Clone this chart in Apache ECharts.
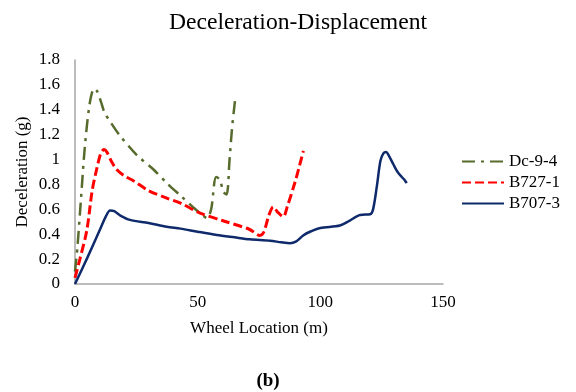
<!DOCTYPE html>
<html><head><meta charset="utf-8">
<script src="https://cdn.jsdelivr.net/npm/echarts@6/dist/echarts.min.js"></script>
<style>html,body{margin:0;padding:0;background:#fff}#c{width:576px;height:392px}</style>
</head><body><div id="c"></div>
<script>
const seriesNames = ["Dc-9-4", "B727-1", "B707-3"];
const dcX = [0, 1, 2.5, 4, 6, 7.8, 9, 10.5, 12, 14.5, 18, 25, 32, 37.5, 43, 48, 51.5, 53.8, 55.5, 57.5, 59, 60.5, 61.8, 63, 64, 65.2];
const dcY = [0.1, 0.3, 0.7, 1.1, 1.45, 1.57, 1.55, 1.47, 1.38, 1.3, 1.2, 1.04, 0.92, 0.81, 0.71, 0.62, 0.56, 0.53, 0.6, 0.86, 0.84, 0.74, 0.72, 1.0, 1.25, 1.47];
const b727X = [0, 2, 4.8, 7, 8.8, 10.5, 11.8, 13, 15, 17, 20, 23.8, 30, 37.4, 43, 51, 60, 71, 75.4, 77, 79, 80.8, 82.5, 84.9, 86.5, 89.7, 91.5, 93.1];
const b727Y = [0.05, 0.2, 0.43, 0.75, 0.92, 1.05, 1.08, 1.06, 0.98, 0.92, 0.87, 0.83, 0.75, 0.69, 0.65, 0.57, 0.51, 0.44, 0.39, 0.42, 0.55, 0.62, 0.58, 0.54, 0.62, 0.82, 0.95, 1.07];
const b707X = [0, 5, 10, 12.5, 14.3, 16, 18.5, 22.4, 30, 37.4, 43, 50, 57.8, 65, 71.3, 79.5, 84, 87.6, 90, 93, 95.8, 100, 108, 112, 116.2, 120.3, 121.5, 123, 124.5, 125.7, 126.8, 127.7, 129.8, 131.5, 133.2, 134.2, 135.2];
const b707Y = [0, 0.21, 0.43, 0.54, 0.59, 0.585, 0.55, 0.515, 0.49, 0.46, 0.445, 0.42, 0.394, 0.375, 0.359, 0.348, 0.335, 0.327, 0.34, 0.39, 0.42, 0.45, 0.47, 0.51, 0.555, 0.56, 0.6, 0.78, 0.99, 1.05, 1.06, 1.04, 0.96, 0.9, 0.86, 0.84, 0.81];
const xTicks = [0, 50, 100, 150];
const yTicks = [0, 0.2, 0.4, 0.6, 0.8, 1, 1.2, 1.4, 1.6, 1.8];

function pairs(xs, ys){ return xs.map((x,i)=>[x, ys[i]]); }
const font = '"Liberation Serif", "Times New Roman", serif';
const chart = echarts.init(document.getElementById('c'), null, {renderer:'canvas'});
chart.setOption({
  animation:false,
  backgroundColor:'#fff',
  title:[{text:'Deceleration-Displacement', left:293, top:6, textAlign:'center',
    textStyle:{fontFamily:font, fontSize:23.6, fontWeight:'normal', color:'#000'}},
    {text:'(b)', left:263, top:367, textAlign:'center',
    textStyle:{fontFamily:font, fontSize:19, fontWeight:'bold', color:'#000'}}],
  legend:{orient:'vertical', left:461, top:153, padding:0, itemWidth:42, itemHeight:14, itemGap:4,
    itemStyle:{opacity:0},
    textStyle:{fontFamily:font, fontSize:17, lineHeight:17, color:'#000'},
    data:seriesNames},
  grid:{left:75, right:133, top:60, bottom:108, containLabel:false},
  xAxis:{type:'value', min:0, max:150, interval:50,
    name:'Wheel Location (m)', nameLocation:'middle', nameGap:36,
    nameTextStyle:{fontFamily:font, fontSize:17, color:'#000'},
    axisLine:{lineStyle:{color:'#a6a6a6', width:1.5}}, axisTick:{show:false}, splitLine:{show:false},
    axisLabel:{fontFamily:font, fontSize:17, color:'#000', margin:10}},
  yAxis:{type:'value', min:0, max:1.8, interval:0.2,
    name:'Deceleration (g)', nameLocation:'middle', nameGap:44, nameMoveOverlap:false,
    nameTextStyle:{fontFamily:font, fontSize:17, color:'#000'},
    axisLine:{show:true, lineStyle:{color:'#a6a6a6', width:1.5}}, axisTick:{show:false}, splitLine:{show:false},
    axisLabel:{fontFamily:font, fontSize:17, color:'#000', margin:15,
      formatter:v=>String(Math.round(v*10)/10)}},
  series:[
    {name:seriesNames[0], type:'line', data:pairs(dcX,dcY), smooth:0.3, symbol:'none',
      lineStyle:{color:'#576b2c', width:2.5, type:[13,6,3,6]}, itemStyle:{color:'#576b2c'}},
    {name:seriesNames[1], type:'line', data:pairs(b727X,b727Y), smooth:0.3, symbol:'none',
      lineStyle:{color:'#ff0000', width:3, type:[9,4]}, itemStyle:{color:'#ff0000'}},
    {name:seriesNames[2], type:'line', data:pairs(b707X,b707Y), smooth:0.3, symbol:'none',
      lineStyle:{color:'#0e2a6b', width:2.5, type:'solid'}, itemStyle:{color:'#0e2a6b'}}
  ]
});
</script></body></html>
